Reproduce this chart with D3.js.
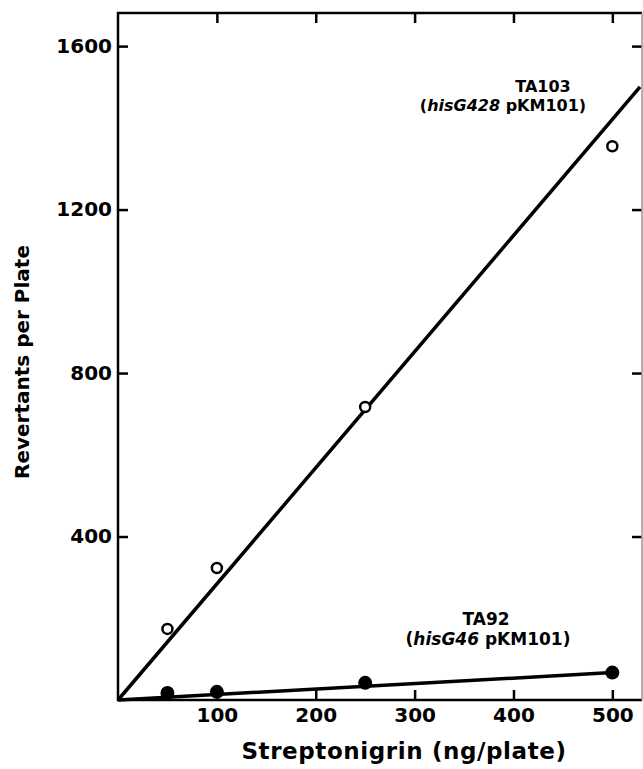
<!DOCTYPE html>
<html>
<head>
<meta charset="utf-8">
<script src="https://cdn.jsdelivr.net/npm/d3@7"></script>
<style>
  body { margin: 0; background: #fff; }
  text { font-family: "DejaVu Sans", sans-serif; font-weight: bold; fill: #000; }
</style>
</head>
<body>
<div id="vis"></div>
<script>
// data
let doses = [50, 100, 250, 500];
let ta103 = [174, 323, 717, 1355];
let ta92 = [17, 20, 42, 67];
// fitted lines, [dose, revertants]
let ta103Fit = [[0, 0], [528, 1500]];
let ta92Fit = [[0, 0], [500, 67]];
let xTicks = [100, 200, 300, 400, 500];
let yTicks = [400, 800, 1200, 1600];

let margin = { top: 13, left: 118, right: 1, bottom: 69 };
let width = 643 - margin.left - margin.right;
let height = 769 - margin.top - margin.bottom;

let svg = d3.select('#vis')
  .append('svg')
    .attr('width', 643)
    .attr('height', 769);

let g = svg.append('g')
  .attr('transform', 'translate(' + margin.left + ',' + margin.top + ')');

let xScale = d3.scaleLinear()
  .domain([0, 530])
  .range([0, width]);

let yScale = d3.scaleLinear()
  .domain([0, 1681])
  .range([height, 0]);

// frame with inward ticks
function styleAxis(sel) {
  sel.selectAll('.domain').remove();
  sel.selectAll('line').attr('stroke', '#000').attr('stroke-width', 2.5);
  sel.selectAll('text').style('font-size', '20px');
}

g.append('g')
  .attr('transform', `translate(0, ${height})`)
  .call(d3.axisBottom(xScale).tickValues(xTicks).tickSizeInner(-10).tickSizeOuter(0).tickPadding(8).tickFormat(d3.format('d')))
  .call(styleAxis);

g.append('g')
  .call(d3.axisTop(xScale).tickValues(xTicks).tickSizeInner(-10).tickSizeOuter(0).tickFormat(''))
  .call(styleAxis);

g.append('g')
  .call(d3.axisLeft(yScale).tickValues(yTicks).tickSizeInner(-10).tickSizeOuter(0).tickPadding(6).tickFormat(d3.format('d')))
  .call(styleAxis);

g.append('g')
  .attr('transform', `translate(${width}, 0)`)
  .call(d3.axisRight(yScale).tickValues(yTicks).tickSizeInner(-10).tickSizeOuter(0).tickFormat(''))
  .call(styleAxis);

// axis lines
g.append('path')
  .attr('d', `M${width},0 H0 V${height} H${width}`)
  .attr('fill', 'none')
  .attr('stroke', '#000')
  .attr('stroke-width', 2.5);

g.append('line')
  .attr('x1', width).attr('x2', width)
  .attr('y1', 0).attr('y2', height)
  .attr('stroke', '#999')
  .attr('stroke-width', 1.5);

// fitted lines
let line = d3.line()
  .x(d => xScale(d[0]))
  .y(d => yScale(d[1]));

g.append('path')
  .attr('d', line(ta103Fit))
  .attr('fill', 'none')
  .attr('stroke', '#000')
  .attr('stroke-width', 3.5);

g.append('path')
  .attr('d', line(ta92Fit))
  .attr('fill', 'none')
  .attr('stroke', '#000')
  .attr('stroke-width', 3.5);

// points
g.selectAll('.open')
  .data(doses)
  .enter().append('circle')
    .attr('class', 'open')
    .attr('cx', d => xScale(d))
    .attr('cy', (d, i) => yScale(ta103[i]))
    .attr('r', 5)
    .attr('fill', '#fff')
    .attr('stroke', '#000')
    .attr('stroke-width', 2.5);

g.selectAll('.filled')
  .data(doses)
  .enter().append('circle')
    .attr('class', 'filled')
    .attr('cx', d => xScale(d))
    .attr('cy', (d, i) => yScale(ta92[i]))
    .attr('r', 7)
    .attr('fill', '#000');

// strain labels, one text per line
function strainLabel(x1, x2, y, gap, size, name, allele) {
  svg.append('text')
    .attr('x', x1)
    .attr('y', y)
    .attr('text-anchor', 'middle')
    .style('font-size', size + 'px')
    .text(name);
  let t2 = svg.append('text')
    .attr('x', x2)
    .attr('y', y + gap)
    .attr('text-anchor', 'middle')
    .style('font-size', size + 'px');
  t2.append('tspan').text('(');
  t2.append('tspan').style('font-style', 'italic').text(allele);
  t2.append('tspan').text(' pKM101)');
}
strainLabel(543, 503, 92, 19, 16, 'TA103', 'hisG428');
strainLabel(486, 488, 625, 20, 17, 'TA92', 'hisG46');

// axis titles
svg.append('text')
  .attr('x', 404)
  .attr('y', 759)
  .attr('text-anchor', 'middle')
  .style('font-size', '23px')
  .style('letter-spacing', '0.6px')
  .text('Streptonigrin (ng/plate)');

svg.append('text')
  .attr('transform', 'translate(29, 362) rotate(-90)')
  .attr('text-anchor', 'middle')
  .style('font-size', '20px')
  .text('Revertants per Plate');
</script>
</body>
</html>
